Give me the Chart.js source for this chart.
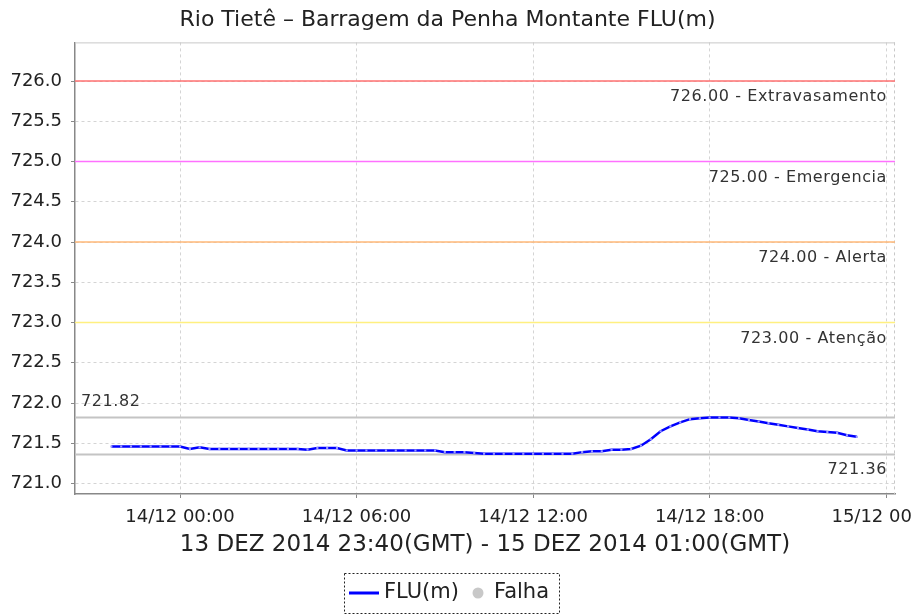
<!DOCTYPE html>
<html>
<head>
<meta charset="utf-8">
<script src="https://cdn.jsdelivr.net/npm/chart.js@4.4.1/dist/chart.umd.min.js"></script>
<style>
  html, body { margin: 0; padding: 0; background: #fff; }
  #wrap { width: 914px; height: 614px; }
</style>
</head>
<body>
<div id="wrap"><canvas id="chart" width="914" height="614"></canvas></div>
<script>
const chartTitle = 'Rio Tietê – Barragem da Penha Montante FLU(m)';
const periodLabel = '13 DEZ 2014 23:40(GMT) - 15 DEZ 2014 01:00(GMT)';
const seriesName = 'FLU(m)';
const failName = 'Falha';

// hours relative to 14/12 00:00, first reading 13/12 21:40, one every 20 min
const startHour = -7 / 3;
const stepHour = 1 / 3;
const flu = [
  721.46, 721.46, 721.46, 721.46, 721.46, 721.46, 721.46, 721.46,
  721.43, 721.45, 721.43, 721.43, 721.43, 721.43, 721.43, 721.43,
  721.43, 721.43, 721.43, 721.43, 721.42, 721.44, 721.44, 721.44,
  721.41, 721.41, 721.41, 721.41, 721.41, 721.41, 721.41, 721.41,
  721.41, 721.41, 721.39, 721.39, 721.39, 721.38, 721.37, 721.37,
  721.37, 721.37, 721.37, 721.37, 721.37, 721.37, 721.37, 721.37,
  721.39, 721.40, 721.40, 721.42, 721.42, 721.43, 721.47, 721.55,
  721.65, 721.71, 721.76, 721.80, 721.81, 721.82, 721.82, 721.82,
  721.81, 721.79, 721.77, 721.75, 721.73, 721.71, 721.69, 721.67,
  721.65, 721.64, 721.63, 721.60, 721.58
];

const xTickHours = [0, 6, 12, 18, 24];
const xTickLabels = ['14/12 00:00', '14/12 06:00', '14/12 12:00', '14/12 18:00', '15/12 00:00'];
const yTicks = [721.0, 721.5, 722.0, 722.5, 723.0, 723.5, 724.0, 724.5, 725.0, 725.5, 726.0];

const levels = [726, 725, 724, 723];
const levelNames = ['Extravasamento', 'Emergencia', 'Alerta', 'Atenção'];
const levelColors = ['#ff7070', '#ff70ff', '#ffb878', '#fff080'];
const peakLevel = 721.82;
const lowLevel = 721.36;

const points = flu.map((v, i) => ({ x: startHour + i * stepHour, y: v }));

const FONT = 'DejaVu Sans';
Chart.defaults.font.family = FONT;
Chart.defaults.color = '#333';

// reference lines, their labels and the frame
const decor = {
  id: 'decor',
  beforeDatasetsDraw(chart) {
    const { ctx, chartArea: a, scales: { y } } = chart;
    ctx.save();
    // frame top / right
    ctx.strokeStyle = '#c8c8c8';
    ctx.lineWidth = 1;
    ctx.beginPath();
    ctx.moveTo(a.left, a.top + 0.5);
    ctx.lineTo(a.right, a.top + 0.5);
    ctx.stroke();
    ctx.setLineDash([3, 3]);
    ctx.beginPath();
    ctx.moveTo(a.right - 0.5, a.top);
    ctx.lineTo(a.right - 0.5, a.bottom);
    ctx.stroke();
    ctx.setLineDash([]);

    ctx.font = '16px ' + FONT;
    ctx.letterSpacing = '0.6px';
    ctx.fillStyle = '#333';
    ctx.textBaseline = 'middle';

    levels.forEach((lv, i) => {
      const py = y.getPixelForValue(lv);
      ctx.strokeStyle = levelColors[i];
      ctx.lineWidth = 1.5;
      ctx.beginPath();
      ctx.moveTo(a.left, py);
      ctx.lineTo(a.right, py);
      ctx.stroke();
      ctx.textAlign = 'right';
      ctx.fillText(lv.toFixed(2) + ' - ' + levelNames[i], a.right - 8, py + 16);
    });

    [peakLevel, lowLevel].forEach(lv => {
      const py = y.getPixelForValue(lv);
      ctx.strokeStyle = '#c4c4c4';
      ctx.lineWidth = 2;
      ctx.beginPath();
      ctx.moveTo(a.left, py);
      ctx.lineTo(a.right, py);
      ctx.stroke();
    });
    ctx.textAlign = 'left';
    ctx.fillText(peakLevel.toFixed(2), a.left + 6, y.getPixelForValue(peakLevel) - 16);
    ctx.textAlign = 'right';
    ctx.fillText(lowLevel.toFixed(2), a.right - 8, y.getPixelForValue(lowLevel) + 15);
    ctx.restore();
  },
  afterDraw(chart) {
    const { ctx } = chart;
    ctx.save();
    const bx = 344, by = 573, bw = 215, bh = 40;
    ctx.strokeStyle = '#222';
    ctx.lineWidth = 1;
    ctx.setLineDash([2, 2]);
    ctx.strokeRect(bx + 0.5, by + 0.5, bw, bh);
    ctx.setLineDash([]);
    const cy = by + 20;
    ctx.strokeStyle = '#0000ff';
    ctx.lineWidth = 3;
    ctx.beginPath();
    ctx.moveTo(bx + 5, cy);
    ctx.lineTo(bx + 35, cy);
    ctx.stroke();
    ctx.font = '21px ' + FONT;
    ctx.fillStyle = '#222';
    ctx.textBaseline = 'middle';
    ctx.textAlign = 'left';
    ctx.fillText(seriesName, bx + 40, cy);
    ctx.fillStyle = '#c8c8c8';
    ctx.beginPath();
    ctx.arc(bx + 134, cy, 5.5, 0, Math.PI * 2);
    ctx.fill();
    ctx.fillStyle = '#222';
    ctx.fillText(failName, bx + 150, cy);
    ctx.restore();
  }
};

new Chart(document.getElementById('chart'), {
  type: 'line',
  data: {
    datasets: [{
      label: seriesName,
      data: points,
      borderColor: '#0000ff',
      borderWidth: 2.5,
      pointRadius: 1.5,
      pointStyle: 'rect',
      pointBackgroundColor: '#9a9aff',
      pointBorderWidth: 0,
      tension: 0,
      fill: false
    }]
  },
  options: {
    responsive: false,
    animation: false,
    layout: { padding: { left: 0, right: 19, top: 0, bottom: 55 } },
    plugins: {
      legend: { display: false },
      tooltip: { enabled: false },
      title: {
        display: true,
        text: chartTitle,
        color: '#222',
        font: { size: 22, weight: 'normal' },
        padding: { top: 7, bottom: 9 }
      }
    },
    scales: {
      x: {
        type: 'linear',
        min: -3.57,
        max: 24.3,
        afterBuildTicks: s => { s.ticks = xTickHours.map(v => ({ value: v })); },
        afterFit: s => { s.height = 65; s.paddingLeft = 0; s.paddingRight = 0; },
        ticks: {
          autoSkip: false,
          maxRotation: 0,
          padding: 9,
          color: '#222',
          font: { size: 18 },
          callback: v => xTickLabels[xTickHours.indexOf(v)] ?? ''
        },
        grid: { color: '#d4d4d4', tickLength: 4, tickColor: '#888' },
        border: { color: '#888', width: 1.5, dash: [3, 3] },
        title: {
          display: true,
          text: periodLabel,
          color: '#222',
          font: { size: 23 },
          padding: 0
        }
      },
      y: {
        min: 720.87,
        max: 726.48,
        afterBuildTicks: s => { s.ticks = yTicks.map(v => ({ value: v })); },
        afterFit: s => { s.width = 75; s.paddingTop = 0; s.paddingBottom = 0; },
        ticks: {
          padding: 9,
          color: '#222',
          font: { size: 18 },
          callback: v => Number(v).toFixed(1)
        },
        grid: { color: '#d4d4d4', tickLength: 4, tickColor: '#888' },
        border: { color: '#888', width: 1.5, dash: [3, 3] }
      }
    }
  },
  plugins: [decor]
});
</script>
</body>
</html>
